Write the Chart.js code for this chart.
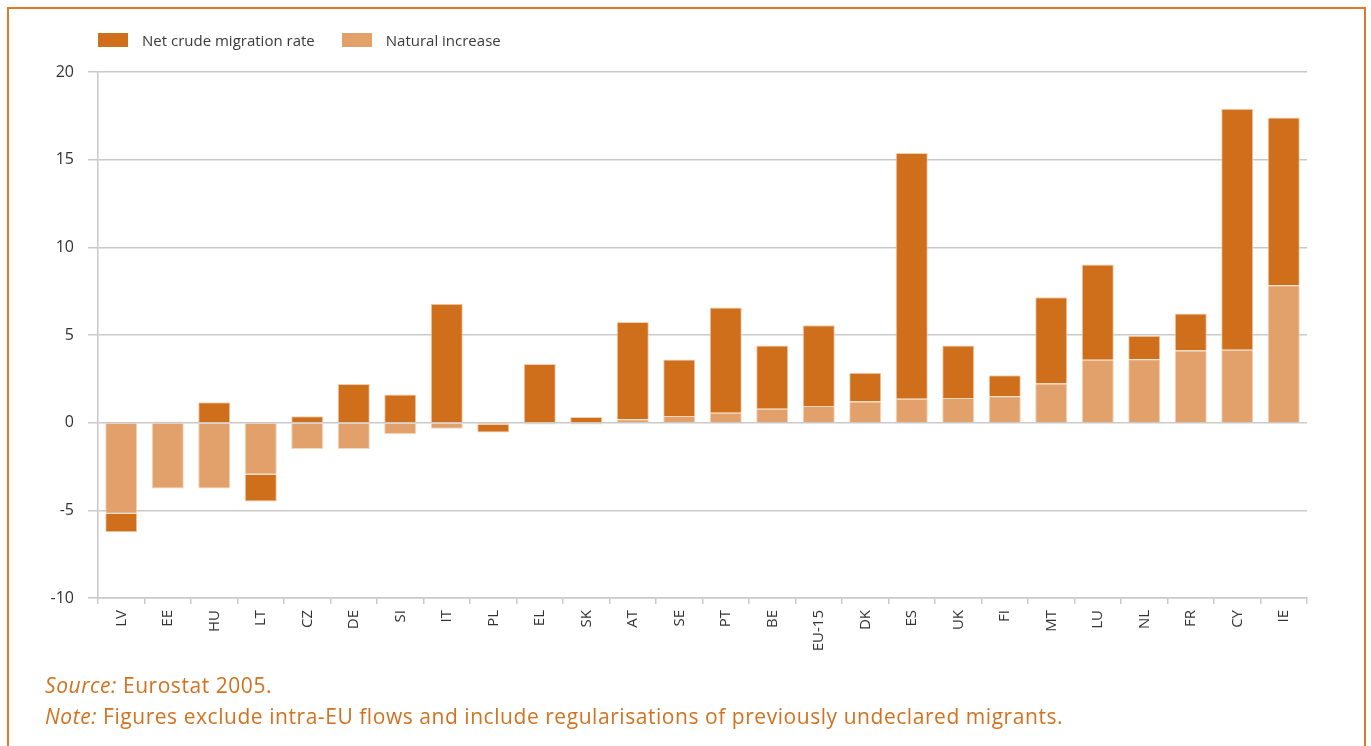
<!DOCTYPE html>
<html>
<head>
<meta charset="utf-8">
<script src="https://cdn.jsdelivr.net/npm/chart.js@4.4.1/dist/chart.umd.min.js"></script>
<style>
  html, body { margin: 0; padding: 0; background: #fff; }
  body { width: 1371px; height: 746px; position: relative; overflow: hidden; font-family: "Open Sans", sans-serif; }
  #frame { position: absolute; left: 7px; top: 7px; width: 1359px; height: 800px; border: 2px solid #e07a2a; box-sizing: border-box; }
  #wrap { position: absolute; left: 0; top: 0; width: 1371px; height: 746px; }
  #legend { position: absolute; left: 98px; top: 30px; display: flex; font-size: 15px; color: #3a3a3a; }
  #legend .item { display: flex; align-items: center; margin-right: 27px; }
  #legend .box { width: 30px; height: 14px; margin-right: 14px; }
  #notes { position: absolute; left: 45px; top: 670px; font-size: 21px; letter-spacing: 0.55px; color: #d2711e; line-height: 31px; }
  #notes i { font-style: italic; }
</style>
</head>
<body>
<div id="frame"></div>
<div id="wrap"><canvas id="chart"></canvas></div>
<div id="legend"></div>
<div id="notes">
  <div><i>Source:</i> Eurostat 2005.</div>
  <div><i>Note:</i> Figures exclude intra-EU flows and include regularisations of previously undeclared migrants.</div>
</div>
<script>
// Valores (por mil habitantes)
const countries = ['LV', 'EE', 'HU', 'LT', 'CZ', 'DE', 'SI', 'IT', 'PL', 'EL', 'SK', 'AT', 'SE', 'PT', 'BE', 'EU-15', 'DK', 'ES', 'UK', 'FI', 'MT', 'LU', 'NL', 'FR', 'CY', 'IE'];
const naturalIncrease = [-5.2, -3.75, -3.75, -2.95, -1.5, -1.5, -0.66, -0.34, -0.13, -0.1, -0.1, 0.2, 0.38, 0.57, 0.8, 0.95, 1.21, 1.37, 1.4, 1.5, 2.24, 3.59, 3.62, 4.12, 4.16, 7.84];
const netMigration = [-1.05, 0.05, 1.16, -1.55, 0.36, 2.2, 1.6, 6.78, -0.43, 3.35, 0.33, 5.54, 3.22, 6.0, 3.6, 4.6, 1.64, 14.01, 3.0, 1.2, 4.92, 5.43, 1.34, 2.11, 13.75, 9.56];
const yTicks = [-10, -5, 0, 5, 10, 15, 20];

const darkColor = '#cf6f1b';
const lightColor = '#e2a06a';
const gridColor = '#c9c9c9';
const textColor = '#333333';

const ctx = document.getElementById('chart').getContext('2d');
const chart = new Chart(ctx, {
  type: 'bar',
  data: {
    labels: countries,
    datasets: [
      // a natural fica mais perto do zero na pilha
      { label: 'Natural increase', data: naturalIncrease, backgroundColor: lightColor, borderColor: '#f3d6bd', borderWidth: 1, stack: 's' },
      { label: 'Net crude migration rate', data: netMigration, backgroundColor: darkColor, borderColor: '#f0cfb2', borderWidth: 1, stack: 's' }
    ]
  },
  options: {
    responsive: true,
    maintainAspectRatio: false,
    animation: false,
    layout: { padding: { top: 72, right: 64, left: 0, bottom: 0 } },
    datasets: { bar: { categoryPercentage: 1, barPercentage: 0.69 } },
    plugins: {
      legend: { display: false },
      tooltip: { enabled: true }
    },
    scales: {
      x: {
        stacked: true,
        afterFit: (scale) => { scale.height = 148; },
        grid: { offset: true, drawOnChartArea: false, drawTicks: true, tickLength: 6, color: gridColor, lineWidth: 1.5 },
        border: { display: true, color: gridColor, width: 1.5 },
        ticks: {
          color: textColor,
          font: { family: 'Open Sans', size: 15 },
          minRotation: 90,
          maxRotation: 90,
          padding: 6,
          autoSkip: false
        }
      },
      y: {
        stacked: true,
        min: -10,
        max: 20,
        afterFit: (scale) => { scale.width = 98; },
        afterBuildTicks: (scale) => { scale.ticks = yTicks.map(v => ({ value: v })); },
        grid: { color: gridColor, lineWidth: 1.5, tickLength: 10 },
        border: { display: true, color: gridColor, width: 1.5 },
        ticks: {
          color: textColor,
          font: { family: 'Open Sans', size: 16 },
          padding: 14
        }
      }
    }
  }
});

// Legenda em HTML, na ordem do original
const legend = document.getElementById('legend');
[...chart.data.datasets].reverse().forEach(ds => {
  const item = document.createElement('div');
  item.className = 'item';
  item.innerHTML = `<span class="box" style="background:${ds.backgroundColor}"></span><span>${ds.label}</span>`;
  legend.appendChild(item);
});
</script>
</body>
</html>
